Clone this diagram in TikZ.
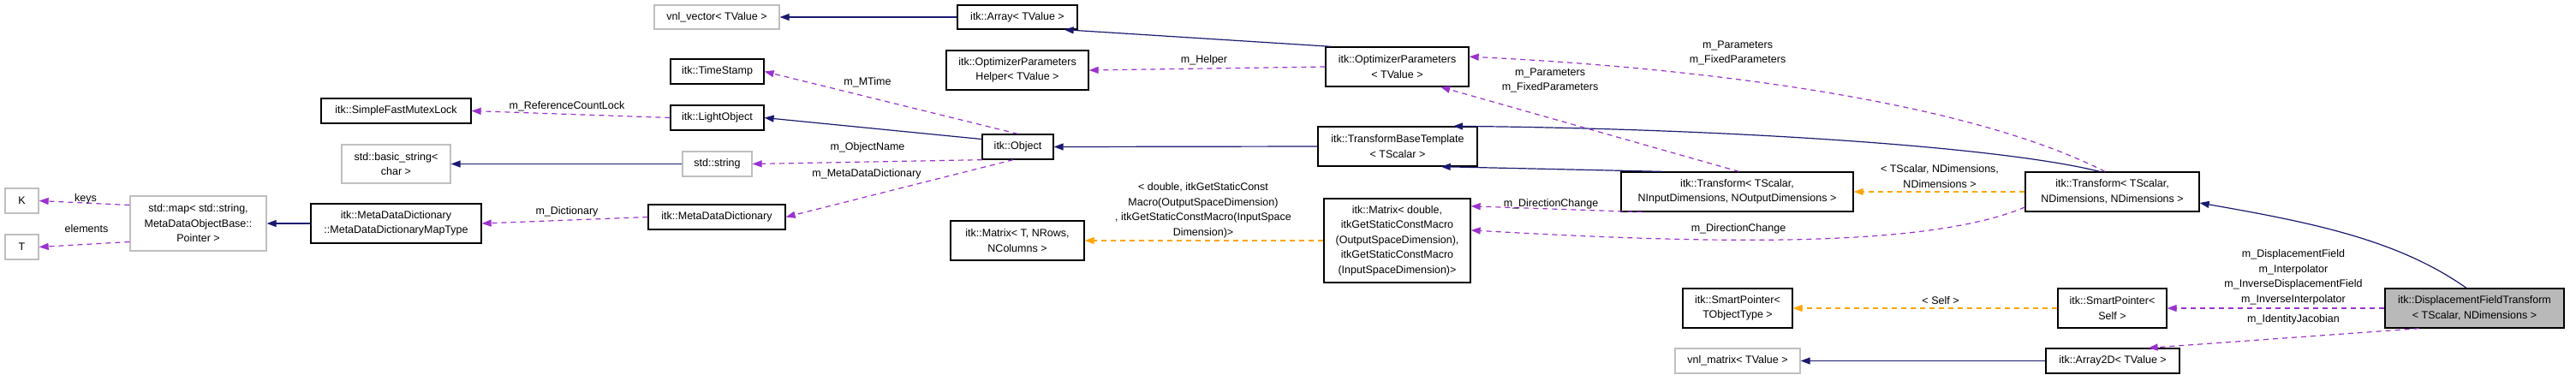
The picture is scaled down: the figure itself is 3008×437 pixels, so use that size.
\documentclass[tikz,border=0pt]{standalone}
\usepackage{fontspec}
\setmainfont{Liberation Sans}
\usetikzlibrary{arrows.meta}
\definecolor{nv}{HTML}{191970}
\definecolor{pp}{HTML}{9A32CD}
\definecolor{og}{HTML}{FFA500}
\definecolor{gb}{HTML}{BFBFBF}
\begin{document}
\begin{tikzpicture}[x=1pt,y=-1pt,
 font=\fontsize{12.5}{17.5}\selectfont,
 box/.style={draw=black,line width=1.3pt,fill=white,align=center,inner sep=1pt},
 gbox/.style={box,draw=gb},
 tip/.style={-{Triangle[length=11pt,width=8pt]}},
 inh/.style={tip,draw=nv,line width=1.2pt,-{Triangle[length=11pt,width=8pt,fill=nv]}},
 use/.style={draw=pp,dashed,dash pattern=on 6pt off 5pt,line width=1.2pt,-{Triangle[length=11pt,width=8pt,fill=pp]}},
 tmpl/.style={draw=og,dashed,dash pattern=on 6pt off 5pt,line width=1.2pt,-{Triangle[length=11pt,width=8pt,fill=og]}},
 lbl/.style={align=center,inner sep=0pt}]
\useasboundingbox (0,0) rectangle (3008,437);
\newcommand{\bx}[7]{\node[#1,minimum width=#5-#3,minimum height=#6-#4] (#2) at ({(#3+#5)/2},{(#4+#6)/2}) {#7};}
\bx{gbox}{vnlv}{764}{6}{910}{34}{vnl\_vector< TValue >}
\bx{box}{ts}{783}{69}{892}{98}{itk::TimeStamp}
\bx{box}{mutex}{375}{115}{550}{144}{itk::SimpleFastMutexLock}
\bx{box}{light}{783}{123}{892}{152}{itk::LightObject}
\bx{gbox}{bstr}{399}{169}{526}{214}{std::basic\_string<\\char >}
\bx{gbox}{str}{797}{177}{878}{206}{std::string}
\bx{gbox}{K}{6}{220}{45}{249}{K}
\bx{gbox}{T}{6}{274}{45}{303}{T}
\bx{gbox}{map}{152}{229}{311}{293}{std::map< std::string,\\MetaDataObjectBase::\\Pointer >}
\bx{box}{mapt}{363}{238}{562}{284}{itk::MetaDataDictionary\\::MetaDataDictionaryMapType}
\bx{box}{mdd}{757}{239}{917}{268}{itk::MetaDataDictionary}
\bx{box}{arr}{1118}{6}{1258}{34}{itk::Array< TValue >}
\bx{box}{oph}{1105}{59}{1271}{105}{itk::OptimizerParameters\\Helper< TValue >}
\bx{box}{op}{1548}{55}{1715}{101}{itk::OptimizerParameters\\< TValue >}
\bx{box}{obj}{1147}{157}{1230}{186}{itk::Object}
\bx{box}{tbt}{1539}{148}{1725}{194}{itk::TransformBaseTemplate\\< TScalar >}
\bx{box}{tin}{1893}{201}{2164}{247}{itk::Transform< TScalar,\\NInputDimensions, NOutputDimensions >}
\bx{box}{md}{1546}{232}{1717}{330}{itk::Matrix< double,\\itkGetStaticConstMacro\\(OutputSpaceDimension),\\itkGetStaticConstMacro\\(InputSpaceDimension)>}
\bx{box}{mt}{1110}{258}{1266}{304}{itk::Matrix< T, NRows,\\NColumns >}
\bx{box}{spt}{1965}{337}{2093}{383}{itk::SmartPointer<\\TObjectType >}
\bx{gbox}{vnlm}{1956}{407}{2102}{436}{vnl\_matrix< TValue >}
\bx{box}{tnd}{2365}{201}{2568}{247}{itk::Transform< TScalar,\\NDimensions, NDimensions >}
\bx{box}{sps}{2403}{337}{2530}{383}{itk::SmartPointer<\\Self >}
\node[box,fill=gray!55,minimum width=209,minimum height=46] (dft) at (2889.5,360) {itk::DisplacementFieldTransform\\< TScalar, NDimensions >};
\bx{box}{a2d}{2389}{407}{2545}{436}{itk::Array2D< TValue >}
% edges
\draw[inh] (arr.west) -- (vnlv.east);
\draw[inh] (op.163) -- (arr.345);
\draw[use] (op.west) -- (oph.east);
\node[lbl] at (1406,70) {m\_Helper};
\draw[use] (obj.north) -- (ts.east);
\node[lbl] at (1013,96) {m\_MTime};
\draw[inh] (obj.168) -- (light.east);
\draw[use] (light.west) -- (mutex.east);
\node[lbl] at (662,124) {m\_ReferenceCountLock};
\draw[use] (obj.200) -- (str.east);
\node[lbl] at (1013,172) {m\_ObjectName};
\draw[inh] (str.west) -- (bstr.east);
\draw[use] (obj.250) -- (mdd.east);
\node[lbl] at (1012,203) {m\_MetaDataDictionary};
\draw[use] (mdd.west) -- (mapt.east);
\node[lbl] at (662,247) {m\_Dictionary};
\draw[inh] (mapt.west) -- (map.east);
\draw[use] (map.165) -- (K.east);
\node[lbl] at (100,232) {keys};
\draw[use] (map.195) -- (T.east);
\node[lbl] at (101,267) {elements};
\draw[inh] (tbt.west) -- (obj.east);
\draw[inh] (tin.165) -- (tbt.335);
\draw[inh] (tnd.122) .. controls (2330,170) and (2000,150) .. (tbt.20);
\draw[use] (tin.85) -- (op.335);
\node[lbl] at (1810,94) {m\_Parameters\\m\_FixedParameters};
\draw[use] (tin.192) -- (md.25);
\node[lbl] at (1811,238) {m\_DirectionChange};
\draw[use] (tnd.190) .. controls (2250,290) and (2000,285) .. (md.8);
\node[lbl] at (2030,267) {m\_DirectionChange};
\draw[use] (tnd.110) .. controls (2300,120) and (2000,80) .. (op.8);
\node[lbl] at (2029,62) {m\_Parameters\\m\_FixedParameters};
\draw[tmpl] (tnd.west) -- (tin.east);
\node[lbl] at (2265,206) {< TScalar, NDimensions,\\NDimensions >};
\draw[tmpl] (md.west |- mt.east) -- (mt.east);
\node[lbl] at (1405,246) {< double, itkGetStaticConst\\Macro(OutputSpaceDimension)\\, itkGetStaticConstMacro(InputSpace\\Dimension)>};
\draw[inh] (dft.112) .. controls (2800,280) and (2700,260) .. (tnd.east |- 0,237);
\draw[use] (dft.west) -- (sps.east);
\node[lbl] at (2678,324) {m\_DisplacementField\\m\_Interpolator\\m\_InverseDisplacementField\\m\_InverseInterpolator};
\draw[tmpl] (sps.west) -- (spt.east);
\node[lbl] at (2266,351) {< Self >};
\draw[use] (dft.200) -- (a2d.20);
\node[lbl] at (2678,373) {m\_IdentityJacobian};
\draw[inh] (a2d.west) -- (vnlm.east);
\end{tikzpicture}
\end{document}
